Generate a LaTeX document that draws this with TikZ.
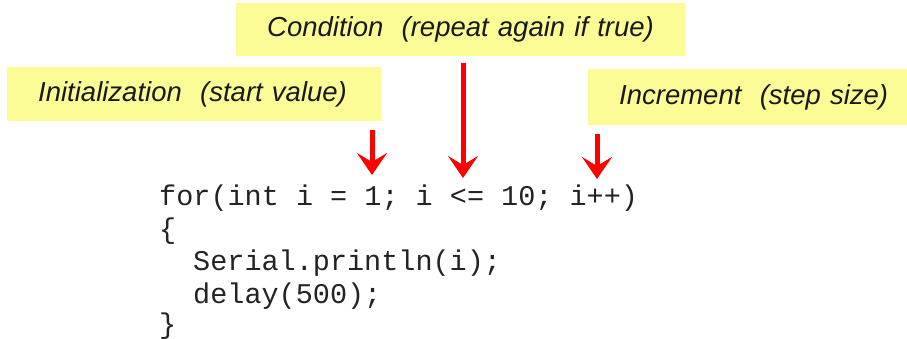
\documentclass[tikz,border=0pt]{standalone}
\usepackage{fontspec}
\setmainfont{Liberation Sans}
\newfontfamily\codefont{Liberation Mono}
\usetikzlibrary{arrows.meta}
\definecolor{noteyellow}{RGB}{252,252,150}
\definecolor{arrowred}{RGB}{255,0,0}
\definecolor{codegray}{RGB}{35,35,35}
\tikzset{
  notebox/.style={rectangle, fill=noteyellow, anchor=north west, inner xsep=31pt, inner ysep=0pt,
    align=left, font=\fontsize{27.5}{32}\selectfont\itshape, text=black!90},
  codeline/.style={anchor=base west, inner sep=0pt, font=\codefont\fontsize{28.5}{32}\selectfont, text=codegray},
  bigarrow/.style={draw=arrowred, line width=5pt, -{Stealth[length=22pt,width=30pt,inset=9pt]}}
}
\begin{document}
\begin{tikzpicture}[x=1pt,y=-1pt]
\useasboundingbox (0,0) rectangle (907,339);
% label boxes
\node[notebox, text width=387pt, minimum height=53pt] (cond) at (236,3) {\mbox{Condition\ \ (repeat again if true)}};
\node[notebox, text width=312pt, minimum height=54pt] (init) at (7,67) {\mbox{Initialization\ \ (start value)}};
\node[notebox, text width=290pt, minimum height=56pt] (incr) at (588,69) {\mbox{Increment\ \ (step size)}};
% code
\node[codeline] (l1) at (159,206) {for(int i = 1; i <= 10; i++)};
\node[codeline] (l2) at (159,238) {\{};
\node[codeline] (l3) at (193,270.5) {Serial.println(i);};
\node[codeline] (l4) at (193,303) {delay(500);};
\node[codeline] (l5) at (159,333.5) {\}};
% arrows
\coordinate (a1s) at (372,130); \coordinate (a1e) at (372,175);
\coordinate (a2s) at (463,63);  \coordinate (a2e) at (463,178);
\coordinate (a3s) at (597,134); \coordinate (a3e) at (597,179);
\draw[bigarrow] (a1s) -- (a1e);
\draw[bigarrow] (a2s) -- (a2e);
\draw[bigarrow] (a3s) -- (a3e);
\end{tikzpicture}
\end{document}
